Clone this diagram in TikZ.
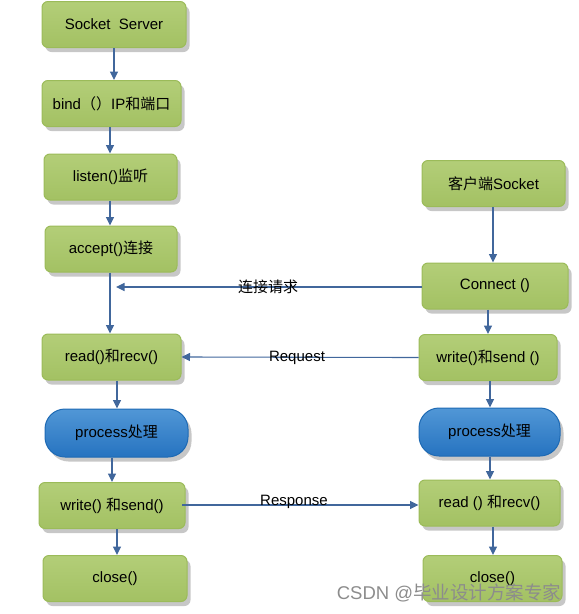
\documentclass[tikz,border=0pt]{standalone}
\usepackage{fontspec}
\setmainfont{Liberation Sans}
\newfontfamily\cjk{Noto Sans CJK SC}
\newcommand{\zh}[1]{{\cjk #1}}
\usetikzlibrary{arrows.meta,shadows}
\definecolor{gborder}{HTML}{9BBB59}
\definecolor{gtop}{HTML}{B3CE78}
\definecolor{gmid}{HTML}{D3E5AE}
\definecolor{gbot}{HTML}{A3C163}
\definecolor{bborder}{HTML}{1E6AB4}
\definecolor{btop}{HTML}{5197D6}
\definecolor{bmid}{HTML}{8EC0EA}
\definecolor{bbot}{HTML}{2673C0}
\definecolor{lineblue}{HTML}{41679C}
\begin{document}
\begin{tikzpicture}[x=1pt,y=-1pt,
  gbox/.style={draw=gborder,line width=1pt,rounded corners=6pt,top color=gtop,middle color=gmid,bottom color=gbot,
    drop shadow={shadow xshift=3.5pt,shadow yshift=-4.5pt,opacity=0.4,fill=black!55},
    minimum height=46pt,font=\fontsize{15}{17}\selectfont,inner sep=2pt},
  bbox/.style={draw=bborder,line width=1pt,rounded corners=20pt,top color=btop,middle color=bmid,bottom color=bbot,
    drop shadow={shadow xshift=3.5pt,shadow yshift=-4.5pt,opacity=0.4,fill=black!55},
    minimum height=48pt,font=\fontsize{15}{17}\selectfont,inner sep=2pt},
  arr/.style={draw=lineblue,line width=1.1pt,-{Triangle[length=8.5pt,width=8pt]}},
  lbl/.style={font=\fontsize{15}{17}\selectfont,inner sep=0pt}
]
\useasboundingbox (0,0) rectangle (579,614);
% left column
\node[gbox,minimum width=144pt] (ss) at (114,24.5) {Socket\ \ Server};
\node[gbox,minimum width=139pt] (bind) at (111.5,103.5) {bind\zh{（）}IP\zh{和端口}};
\node[gbox,minimum width=133pt] (lis) at (110.5,177) {listen()\zh{监听}};
\node[gbox,minimum width=132pt] (acc) at (111,249) {accept()\zh{连接}};
\node[gbox,minimum width=139pt] (lread) at (111.5,357) {read()\zh{和}recv()};
\node[bbox,minimum width=143pt] (lproc) at (116.5,433) {process\zh{处理}};
\node[gbox,minimum width=146pt] (lwrite) at (112,505.5) {write() \zh{和}send()};
\node[gbox,minimum width=144pt] (lclose) at (115,578.5) {close()};
% right column
\node[gbox,minimum width=143pt] (cli) at (493.5,183.5) {\zh{客户端}Socket};
\node[gbox,minimum width=146pt] (conn) at (495,286) {Connect ()};
\node[gbox,minimum width=138pt] (rwrite) at (488,357.5) {write()\zh{和}send ()};
\node[bbox,minimum width=141pt] (rproc) at (489.5,432) {process\zh{处理}};
\node[gbox,minimum width=141pt] (rread) at (489.5,503) {read () \zh{和}recv()};
\node[gbox,minimum width=139pt] (rclose) at (492.5,578.5) {close()};
% left vertical arrows
\draw[arr] (ss.south -| 114,0) -- (bind.north -| 114,0);
\draw[arr] (bind.south -| 110,0) -- (lis.north -| 110,0);
\draw[arr] (lis.south -| 110,0) -- (acc.north -| 110,0);
\draw[arr] (acc.south -| 110,0) -- (lread.north -| 110,0);
\draw[arr] (lread.south -| 117,0) -- (lproc.north -| 117,0);
\draw[arr] (lproc.south -| 112,0) -- (lwrite.north -| 112,0);
\draw[arr] (lwrite.south -| 117,0) -- (lclose.north -| 117,0);
% right vertical arrows
\draw[arr] (cli.south -| 493,0) -- (conn.north -| 493,0);
\draw[arr] (conn.south -| 488,0) -- (rwrite.north -| 488,0);
\draw[arr] (rwrite.south -| 490,0) -- (rproc.north -| 490,0);
\draw[arr] (rproc.south -| 490,0) -- (rread.north -| 490,0);
\draw[arr] (rread.south -| 493,0) -- (rclose.north -| 493,0);
% horizontal arrows
\coordinate (jn) at (116,287);
\draw[arr] (conn.west |- jn) -- (jn);
\node[lbl] (l1) at (268,287) {\zh{连接请求}};
\draw[arr] (rwrite.west) -- (lread.east);
\node[lbl] (l2) at (297,357.5) {Request};
\coordinate (rs) at (182,505);
\draw[arr] (rs) -- (rread.west |- rs);
\node[lbl] (l3) at (294,501.5) {Response};
% watermark
\node[font=\fontsize{18.5}{20}\selectfont,text=black!45,inner sep=0pt] (wm) at (449,593) {CSDN @\zh{毕业设计方案专家}};
\end{tikzpicture}
\end{document}
